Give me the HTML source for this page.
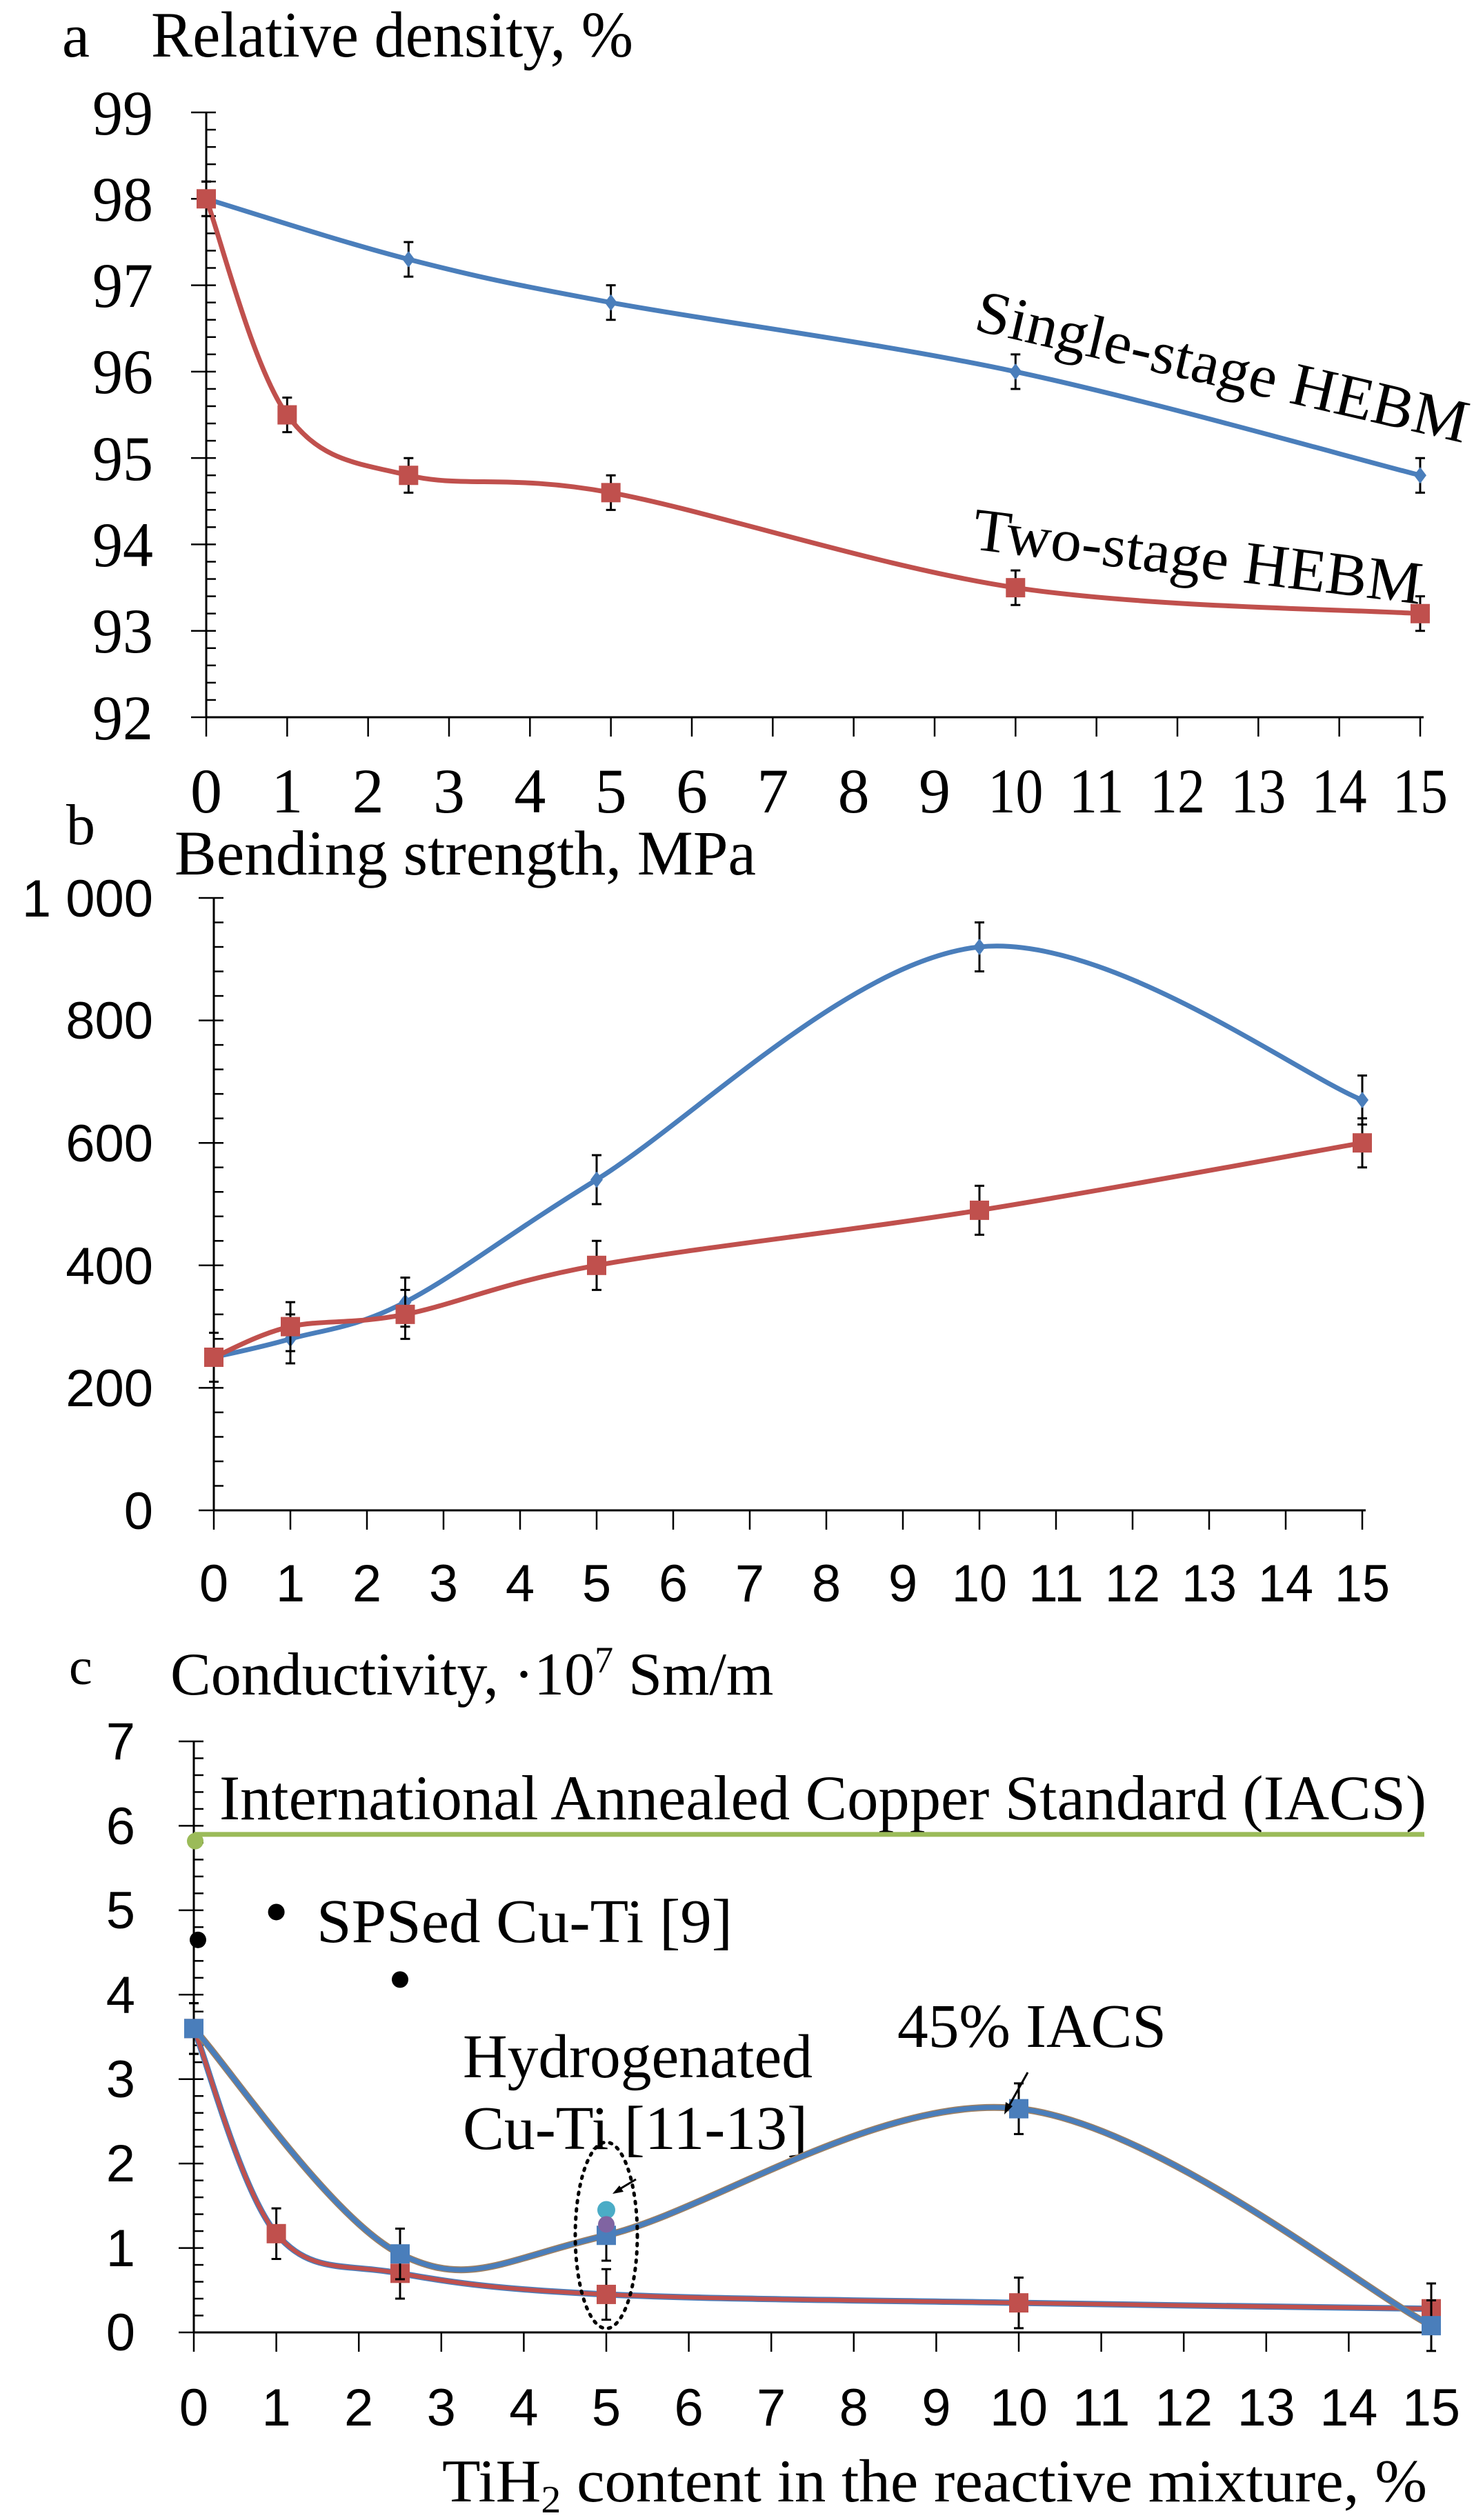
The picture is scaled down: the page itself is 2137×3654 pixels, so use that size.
<!DOCTYPE html>
<html><head><meta charset="utf-8"><style>
html,body{margin:0;padding:0;background:#fff}
svg{display:block}
.se{font-family:"Liberation Serif",serif}
.sa{font-family:"Liberation Sans",sans-serif}
</style></head><body>
<svg id="s" width="2137" height="3654" viewBox="0 0 2137 3654" xmlns="http://www.w3.org/2000/svg">
<rect width="2137" height="3654" fill="#fff"/>
<!-- Chart a text -->
<text class="se" x="90" y="82" font-size="90">a</text>
<text class="se" x="219" y="82" font-size="94" textLength="699" lengthAdjust="spacingAndGlyphs">Relative density, %</text>
<g class="se" font-size="92" text-anchor="end">
<text x="222" y="195" textLength="88" lengthAdjust="spacingAndGlyphs">99</text><text x="222" y="320" textLength="88" lengthAdjust="spacingAndGlyphs">98</text><text x="222" y="445" textLength="88" lengthAdjust="spacingAndGlyphs">97</text>
<text x="222" y="570" textLength="88" lengthAdjust="spacingAndGlyphs">96</text><text x="222" y="696" textLength="88" lengthAdjust="spacingAndGlyphs">95</text><text x="222" y="821" textLength="88" lengthAdjust="spacingAndGlyphs">94</text>
<text x="222" y="946" textLength="88" lengthAdjust="spacingAndGlyphs">93</text><text x="222" y="1072" textLength="88" lengthAdjust="spacingAndGlyphs">92</text>
</g>
<g class="se" font-size="92" text-anchor="middle" id="ax"></g>
<text class="se" font-size="88" transform="translate(1410,478) rotate(13)" textLength="730" lengthAdjust="spacingAndGlyphs">Single-stage HEBM</text>
<text class="se" font-size="88" transform="translate(1408,796) rotate(7)" textLength="655" lengthAdjust="spacingAndGlyphs">Two-stage HEBM</text>
<!-- Chart b text -->
<text class="se" x="96" y="1224" font-size="84">b</text>
<text class="se" x="253" y="1268" font-size="92" textLength="843" lengthAdjust="spacingAndGlyphs">Bending strength, MPa</text>
<g class="sa" font-size="76" text-anchor="end">
<text x="222" y="1329">1 000</text><text x="222" y="1506">800</text><text x="222" y="1684">600</text>
<text x="222" y="1862">400</text><text x="222" y="2039">200</text><text x="222" y="2217">0</text>
</g>
<g class="sa" font-size="76" text-anchor="middle" id="bx"></g>
<!-- Chart c text -->
<text class="se" x="100" y="2442" font-size="76">c</text>
<text class="se" x="247" y="2457" font-size="88">Conductivity, ·10<tspan font-size="54" dy="-32">7</tspan><tspan dy="32"> Sm/m</tspan></text>
<g class="sa" font-size="76" text-anchor="end">
<text x="196" y="2551">7</text><text x="196" y="2674">6</text><text x="196" y="2796">5</text>
<text x="196" y="2919">4</text><text x="196" y="3041">3</text><text x="196" y="3163">2</text>
<text x="196" y="3286">1</text><text x="196" y="3408">0</text>
</g>
<g class="sa" font-size="76" text-anchor="middle" id="cx"></g>
<text class="se" x="318" y="2638" font-size="92" textLength="1750" lengthAdjust="spacingAndGlyphs">International Annealed Copper Standard (IACS)</text>
<text class="se" x="459" y="2816" font-size="90" textLength="603" lengthAdjust="spacingAndGlyphs">SPSed Cu-Ti [9]</text>
<text class="se" x="671" y="3012" font-size="90" textLength="507" lengthAdjust="spacingAndGlyphs">Hydrogenated</text>
<text class="se" x="671" y="3116" font-size="90" textLength="500" lengthAdjust="spacingAndGlyphs">Cu-Ti [11-13]</text>
<text class="se" x="1301" y="2968" font-size="90" textLength="390" lengthAdjust="spacingAndGlyphs">45% IACS</text>
<text class="se" x="641" y="3627" font-size="88" textLength="1428" lengthAdjust="spacingAndGlyphs">TiH<tspan font-size="56" dy="16">2</tspan><tspan dy="-16"> content in the reactive mixture, %</tspan></text>
<g id="g"></g>
</svg>
<script>
var NS="http://www.w3.org/2000/svg",G=document.getElementById('g');
function el(t,a,p){var e=document.createElementNS(NS,t);for(var k in a)e.setAttribute(k,a[k]);(p||G).appendChild(e);return e;}
function spline(pts){var d="M"+pts[0][0]+","+pts[0][1];for(var i=0;i<pts.length-1;i++){var p0=pts[i-1]||pts[i],p1=pts[i],p2=pts[i+1],p3=pts[i+2]||p2;
var c1=[p1[0]+(p2[0]-p0[0])/6,p1[1]+(p2[1]-p0[1])/6],c2=[p2[0]-(p3[0]-p1[0])/6,p2[1]-(p3[1]-p1[1])/6];
d+=" C"+c1+" "+c2+" "+p2;}return d;}
function axes(x0,x15,yT,yB,nMinor,lblY,gid,cond){
 el('line',{x1:x0,y1:yT,x2:x0,y2:yB,stroke:'#000','stroke-width':3});
 el('line',{x1:x0,y1:yB,x2:x15+5,y2:yB,stroke:'#000','stroke-width':3});
 for(var i=0;i<=nMinor;i++){var y=yT+(yB-yT)*i/nMinor;el('line',{x1:x0-(i%5==0?22:0),y1:y,x2:x0+14,y2:y,stroke:'#000','stroke-width':2.5});}
 var gx=document.getElementById(gid);
 for(var v=0;v<=15;v++){var x=x0+(x15-x0)*v/15;el('line',{x1:x,y1:yB,x2:x,y2:yB+28,stroke:'#000','stroke-width':2.5});
  var a={x:x,y:lblY};if(cond&&v>=10){a.textLength=cond;a.lengthAdjust='spacingAndGlyphs';}
  var t=el('text',a,gx);t.textContent=v;}
}
function series(X,Y,data,color,marker,err,width,outline){
 var pts=data.map(function(d){return [X(d[0]),Y(d[1])];});
 if(outline)el('path',{d:spline(pts),fill:'none',stroke:outline,'stroke-width':width+3});
 el('path',{d:spline(pts),fill:'none',stroke:color,'stroke-width':width});
 data.forEach(function(d){var x=X(d[0]),y1=Y(d[1]-err),y2=Y(d[1]+err);
  el('path',{d:"M"+x+","+y1+"V"+y2+"M"+(x-7)+","+y1+"h14M"+(x-7)+","+y2+"h14",stroke:'#000','stroke-width':3,fill:'none'});
  var y=Y(d[1]);
  if(marker=='sq')el('rect',{x:x-14,y:y-14,width:28,height:28,fill:color});
  else el('path',{d:"M"+x+","+(y-12)+"l9,12l-9,12l-9,-12z",fill:color});
 });
}
var BLUE='#4a7ebb',RED='#c0504d';
// chart a
axes(299,2059,163,1040,35,1178,'ax',80);
var Xa=function(v){return 299+117.33*v},Ya=function(d){return 163+(99-d)*125.3};
series(Xa,Ya,[[0,98],[2.5,97.3],[5,96.8],[10,96],[15,94.8]],BLUE,'di',0.2,7);
series(Xa,Ya,[[0,98],[1,95.5],[2.5,94.8],[5,94.6],[10,93.5],[15,93.2]],RED,'sq',0.2,7);
// chart b
axes(310,1975,1302,2190,25,2322,'bx',80);
var Xb=function(v){return 310+111*v},Yb=function(d){return 2190-d*0.888};
series(Xb,Yb,[[0,250],[1,280],[2.5,340],[5,540],[10,920],[15,670]],BLUE,'di',40,7);
series(Xb,Yb,[[0,250],[1,300],[2.5,320],[5,400],[10,490],[15,600]],RED,'sq',40,7);
// chart c
axes(281,2075,2525,3382,35,3517,'cx',84);
var Xc=function(v){return 281+119.6*v},Yc=function(d){return 3382-d*122.4};
el('line',{x1:281,y1:Yc(5.9),x2:2065,y2:Yc(5.9),stroke:'#9bbb59','stroke-width':7});
el('circle',{cx:283,cy:Yc(5.82),r:12,fill:'#9bbb59'});
[[0.05,4.65],[1,4.98],[2.5,4.18]].forEach(function(p){el('circle',{cx:Xc(p[0]),cy:Yc(p[1]),r:12,fill:'#000'});});
series(Xc,Yc,[[0,3.6],[1,1.17],[2.5,0.7],[5,0.45],[10,0.35],[15,0.28]],RED,'sq',0.3,6,'#4a7ebb');
series(Xc,Yc,[[0,3.6],[2.5,0.93],[5,1.15],[10,2.65],[15,0.08]],BLUE,'sq',0.3,7,'#a08060');
el('circle',{cx:Xc(5),cy:Yc(1.45),r:13,fill:'#4bacc6'});
el('circle',{cx:Xc(5),cy:Yc(1.28),r:12,fill:'#8064a2'});
el('ellipse',{cx:Xc(5),cy:Yc(1.15),rx:45,ry:135,fill:'none',stroke:'#000','stroke-width':5,'stroke-dasharray':'3 9','stroke-linecap':'round'});
el('path',{d:"M922,3160 L897,3175",stroke:'#000','stroke-width':3});
el('path',{d:"M888,3181 l16,-3 l-6,-9z",fill:'#000'});
el('path',{d:"M1490,3005 L1462,3055",stroke:'#000','stroke-width':3});
el('path',{d:"M1456,3066 l2,-18 l10,6z",fill:'#000'});
</script>
</body></html>
